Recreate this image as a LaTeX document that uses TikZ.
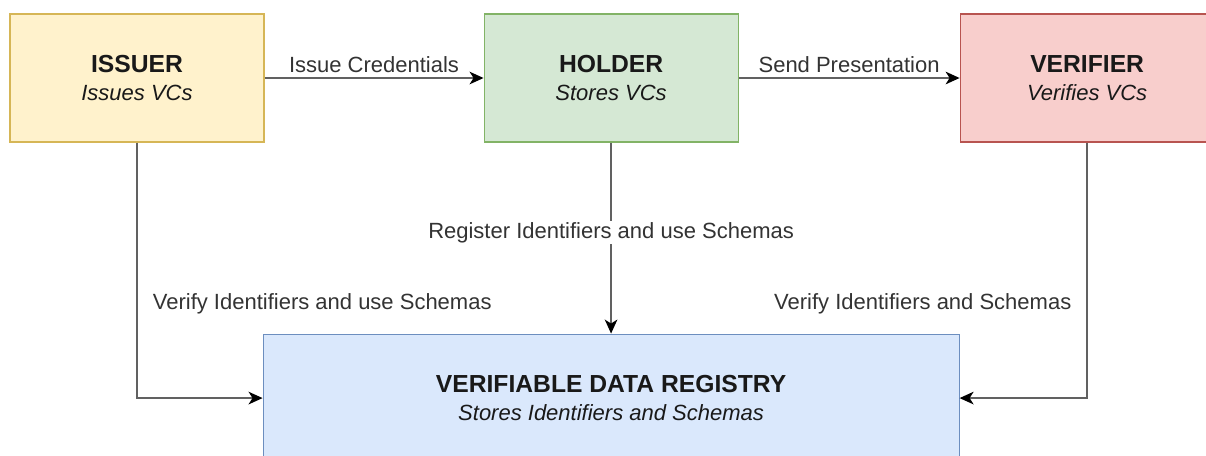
\documentclass[tikz,border=0pt]{standalone}
\usepackage{fontspec}
\setmainfont{Liberation Sans}
\usetikzlibrary{positioning, arrows.meta}

\definecolor{issuerfill}{HTML}{FFF2CC}
\definecolor{issuerline}{HTML}{D6B656}
\definecolor{holderfill}{HTML}{D5E8D4}
\definecolor{holderline}{HTML}{82B366}
\definecolor{verifierfill}{HTML}{F8CECC}
\definecolor{verifierline}{HTML}{B85450}
\definecolor{regfill}{HTML}{DAE8FC}
\definecolor{regline}{HTML}{6C8EBF}
\definecolor{labeltext}{HTML}{333333}

\begin{document}
\begin{tikzpicture}[
    rolebox/.style={
        rectangle,
        draw,
        line width=0.8pt,
        minimum width=190.5pt,
        minimum height=96pt,
        align=center,
        text=black!90,
        font=\fontsize{16.5}{21}\selectfont
    },
    issuerbox/.style={rolebox, fill=issuerfill, draw=issuerline},
    holderbox/.style={rolebox, fill=holderfill, draw=holderline},
    verifierbox/.style={rolebox, fill=verifierfill, draw=verifierline},
    regbox/.style={rolebox, fill=regfill, draw=regline, minimum width=522pt},
    flow/.style={
        draw=black!62,
        line width=1.1pt,
        -{Stealth[length=10.5pt, width=9.5pt, inset=3pt, color=black]}
    },
    flowlabel/.style={
        text=labeltext,
        font=\fontsize{16.5}{20}\selectfont
    }
]
    \useasboundingbox (0,0) rectangle (904.5pt,-341.25pt);

    % Nodes
    \node[issuerbox] (issuer) at (102.75pt,-58.5pt)
        {{\bfseries\fontsize{18.5}{21}\selectfont ISSUER}\\\textit{Issues VCs}};
    \node[holderbox, right=164.25pt of issuer] (holder)
        {{\bfseries\fontsize{18.5}{21}\selectfont HOLDER}\\\textit{Stores VCs}};
    \node[verifierbox, right=165.75pt of holder] (verifier)
        {{\bfseries\fontsize{18.5}{21}\selectfont VERIFIER}\\\textit{Verifies VCs}};
    \node[regbox, below=143.25pt of holder] (registry)
        {{\bfseries\fontsize{18.5}{21}\selectfont VERIFIABLE DATA REGISTRY}\\\textit{Stores Identifiers and Schemas}};

    % Issuer -> Holder -> Verifier
    \draw[flow] (issuer.east) -- node[flowlabel, midway, above] {Issue Credentials} (holder.west);
    \draw[flow] (holder.east) -- node[flowlabel, midway, above] {Send Presentation} (verifier.west);

    % Everyone talks to the registry
    \draw[flow] (holder.south) -- node[flowlabel, pos=0.47, fill=white, inner sep=1pt] {Register Identifiers and use Schemas} (registry.north);
    \draw[flow] (issuer.south) |- node[flowlabel, pos=0.315, anchor=west, xshift=8pt] {Verify Identifiers and use Schemas} (registry.west);
    \draw[flow] (verifier.south) |- node[flowlabel, pos=0.315, anchor=east, xshift=-8pt] {Verify Identifiers and Schemas} (registry.east);

\end{tikzpicture}
\end{document}
